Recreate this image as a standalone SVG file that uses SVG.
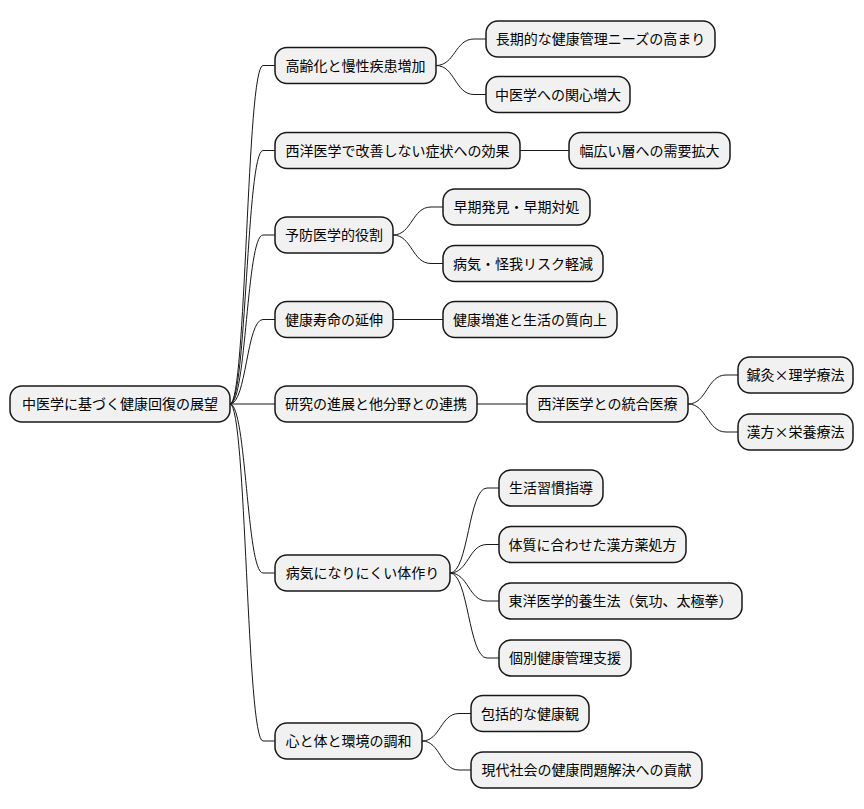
<svg xmlns="http://www.w3.org/2000/svg" width="864" height="809" viewBox="0 0 864 809">
<style>
.n rect{fill:#F1F1F1;stroke:#181818;stroke-width:1.5}
.n text{font-family:"Noto Sans CJK JP","Noto Sans",sans-serif;font-size:14px;fill:#000;text-anchor:middle}
.c path{fill:none;stroke:#181818;stroke-width:1}
</style>
<rect width="864" height="809" fill="#FFFFFF"/>
<g class="c">
<path d="M230 404 C246.5 404 246.5 65.5 263 65.5 L275 65.5"/>
<path d="M230 404 C246.5 404 246.5 150.5 263 150.5 L275 150.5"/>
<path d="M230 404 C246.5 404 246.5 235 263 235 L275 235"/>
<path d="M230 404 C246.5 404 246.5 319.5 263 319.5 L275 319.5"/>
<path d="M230 404 L275 404"/>
<path d="M230 404 C246.5 404 246.5 573 263 573 L275 573"/>
<path d="M230 404 C246.5 404 246.5 741 263 741 L275 741"/>
<path d="M436 65.5 C455 65.5 455 39 474 39 L486 39"/>
<path d="M436 65.5 C455 65.5 455 94.5 474 94.5 L486 94.5"/>
<path d="M520 150.5 L569 150.5"/>
<path d="M393 235 C412 235 412 207 431 207 L443 207"/>
<path d="M393 235 C412 235 412 263.5 431 263.5 L443 263.5"/>
<path d="M393 319.5 L443 319.5"/>
<path d="M477 404 L527 404"/>
<path d="M688 404 C707 404 707 375 726 375 L738 375"/>
<path d="M688 404 C707 404 707 432 726 432 L738 432"/>
<path d="M450 573 C468.5 573 468.5 488 487 488 L499 488"/>
<path d="M450 573 C468.5 573 468.5 544.5 487 544.5 L499 544.5"/>
<path d="M450 573 C468.5 573 468.5 601 487 601 L499 601"/>
<path d="M450 573 C468.5 573 468.5 658 487 658 L499 658"/>
<path d="M422 741 C440.5 741 440.5 713.5 459 713.5 L471 713.5"/>
<path d="M422 741 C440.5 741 440.5 770 459 770 L471 770"/>
</g>
<g id="root" class="n"><rect x="10" y="386" width="220" height="36" rx="12"/><text x="120" y="409">中医学に基づく健康回復の展望</text></g>
<g id="n1" class="n"><rect x="275" y="47.5" width="161" height="36" rx="12"/><text x="355.5" y="70.5">高齢化と慢性疾患増加</text></g>
<g id="n1a" class="n"><rect x="486" y="21" width="229" height="36" rx="12"/><text x="600.5" y="44">長期的な健康管理ニーズの高まり</text></g>
<g id="n1b" class="n"><rect x="486" y="76.5" width="144" height="36" rx="12"/><text x="558" y="99.5">中医学への関心増大</text></g>
<g id="n2" class="n"><rect x="275" y="132.5" width="245" height="36" rx="12"/><text x="397.5" y="155.5">西洋医学で改善しない症状への効果</text></g>
<g id="n2a" class="n"><rect x="569" y="132.5" width="161" height="36" rx="12"/><text x="649.5" y="155.5">幅広い層への需要拡大</text></g>
<g id="n3" class="n"><rect x="275" y="217" width="118" height="36" rx="12"/><text x="334" y="240">予防医学的役割</text></g>
<g id="n3a" class="n"><rect x="443" y="189" width="147" height="36" rx="12"/><text x="516.5" y="212">早期発見・早期対処</text></g>
<g id="n3b" class="n"><rect x="443" y="245.5" width="160" height="36" rx="12"/><text x="523" y="268.5">病気・怪我リスク軽減</text></g>
<g id="n4" class="n"><rect x="275" y="301.5" width="118" height="36" rx="12"/><text x="334" y="324.5">健康寿命の延伸</text></g>
<g id="n4a" class="n"><rect x="443" y="301.5" width="174" height="36" rx="12"/><text x="530" y="324.5">健康増進と生活の質向上</text></g>
<g id="n5" class="n"><rect x="275" y="386" width="202" height="36" rx="12"/><text x="376" y="409">研究の進展と他分野との連携</text></g>
<g id="n5a" class="n"><rect x="527" y="386" width="161" height="36" rx="12"/><text x="607.5" y="409">西洋医学との統合医療</text></g>
<g id="n5a1" class="n"><rect x="738" y="357" width="115" height="36" rx="12"/><text x="795.5" y="380">鍼灸×理学療法</text></g>
<g id="n5a2" class="n"><rect x="738" y="414" width="115" height="36" rx="12"/><text x="795.5" y="437">漢方×栄養療法</text></g>
<g id="n6" class="n"><rect x="275" y="555" width="175" height="36" rx="12"/><text x="362.5" y="578">病気になりにくい体作り</text></g>
<g id="n6a" class="n"><rect x="499" y="470" width="104" height="36" rx="12"/><text x="551" y="493">生活習慣指導</text></g>
<g id="n6b" class="n"><rect x="499" y="526.5" width="187" height="36" rx="12"/><text x="592.5" y="549.5">体質に合わせた漢方薬処方</text></g>
<g id="n6c" class="n"><rect x="499" y="583" width="243" height="36" rx="12"/><text x="620.5" y="606">東洋医学的養生法（気功、太極拳）</text></g>
<g id="n6d" class="n"><rect x="499" y="640" width="132" height="36" rx="12"/><text x="565" y="663">個別健康管理支援</text></g>
<g id="n7" class="n"><rect x="275" y="723" width="147" height="36" rx="12"/><text x="348.5" y="746">心と体と環境の調和</text></g>
<g id="n7a" class="n"><rect x="471" y="695.5" width="118" height="36" rx="12"/><text x="530" y="718.5">包括的な健康観</text></g>
<g id="n7b" class="n"><rect x="471" y="752" width="231" height="36" rx="12"/><text x="586.5" y="775">現代社会の健康問題解決への貢献</text></g>
</svg>
